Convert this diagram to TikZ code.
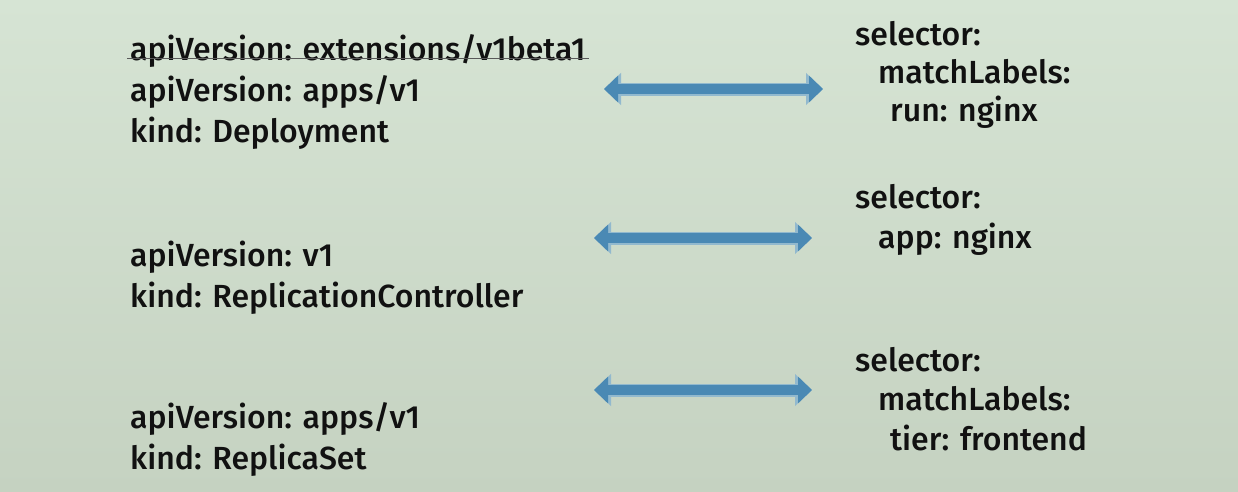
\documentclass[tikz,border=0pt]{standalone}
\usepackage{fontspec}
\setmainfont{Fira Sans}[UprightFont=* Medium]
\usetikzlibrary{arrows.meta}

\definecolor{bgtop}{HTML}{D6E4D4}
\definecolor{bgbottom}{HTML}{C5D2C1}
\definecolor{arrowblue}{HTML}{4A89B4}
\definecolor{arrowedge}{HTML}{92B9CE}
\definecolor{ink}{HTML}{111111}

\begin{document}
\begin{tikzpicture}[
						x=1pt, y=-1pt,
						every node/.style={anchor=base west, inner sep=0pt, text=ink,
							font=\fontsize{32}{38}\selectfont},
						fatarrow/.style={line width=10pt, draw=arrowblue,
							{Triangle[length=14pt,width=26pt]}-{Triangle[length=14pt,width=26pt]},
							preaction={draw=arrowedge, line width=13pt,
								{Triangle[length=17pt,width=31pt]}-{Triangle[length=17pt,width=31pt]}}},
						strike/.style={draw=black!65, line width=1pt}]
					\useasboundingbox (0,0) rectangle (1238,491);
					\shade[top color=bgtop, bottom color=bgbottom] (0,0) rectangle (1238,491);

					% left column
					\node (dep0) at (130,60) {apiVersion: extensions/v1beta1};
					\node (dep1) at (130,101) {apiVersion: apps/v1};
					\node (dep2) at (130,142) {kind: Deployment};
					\node (rc1) at (130,266) {apiVersion: v1};
					\node (rc2) at (130,307) {kind: ReplicationController};
					\node (rs1) at (130,428) {apiVersion: apps/v1};
					\node (rs2) at (130,469) {kind: ReplicaSet};

					% right column
					\node (sel1) at (855,45) {selector:};
					\node (sel1a) at (878,83) {matchLabels:};
					\node (sel1b) at (890,121) {run: nginx};
					\node (sel2) at (855,208) {selector:};
					\node (sel2a) at (878,248) {app: nginx};
					\node (sel3) at (855,371) {selector:};
					\node (sel3a) at (878,410) {matchLabels:};
					\node (sel3b) at (890,450) {tier: frontend};

					\draw [strike] ([xshift=-3pt,yshift=2pt]dep0.base west) -- ([xshift=3pt,yshift=2pt]dep0.base east);

					\coordinate (a1) at (604,89);
					\coordinate (b1) at (823,89);
					\coordinate (a2) at (594,238);
					\coordinate (b2) at (812,238);
					\coordinate (a3) at (594,390);
					\coordinate (b3) at (812,390);
					\path [fatarrow] (a1) -- (b1);
					\path [fatarrow] (a2) -- (b2);
					\path [fatarrow] (a3) -- (b3);
				\end{tikzpicture}
\end{document}
